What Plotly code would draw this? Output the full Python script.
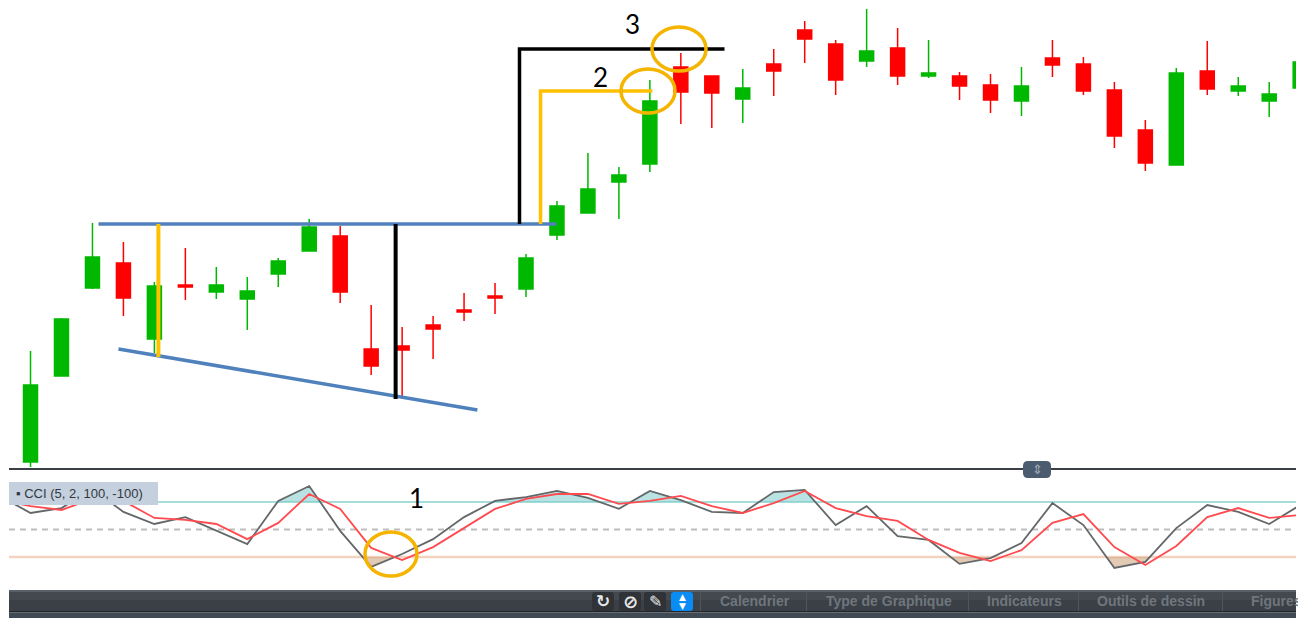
import plotly.graph_objects as go

W, H = 1303, 618

# ---- candles (price scale) ----
opens  = [8,94,182,207,131,185,178,171,196,219,234,121,124,145,160,174,181,235,257,288,306,403,394,371,406,440,426,409,422,394,394,385,369,412,406,380,340,305,399,379,369,382]
highs  = [119,152,247,228,188,222,203,193,212,251,244,165,143,154,177,187,216,269,317,303,390,417,394,401,421,449,430,461,442,430,398,396,403,430,413,388,350,402,429,393,388,420]
lows   = [3,94,181,154,117,170,171,140,183,219,167,95,74,111,149,156,173,230,257,251,298,346,342,347,374,407,375,403,385,392,370,357,354,393,375,322,299,305,375,374,353,370]
closes = [85,151,213,172,184,183,185,179,209,243,178,104,120,141,158,172,212,264,281,295,369,378,377,382,399,431,390,419,394,397,384,370,384,405,379,334,307,397,381,384,376,408]
candle_index = list(range(len(opens)))

# ---- CCI panel ----
cci_index = list(range(-1, 42))
cci_grey = [122,60,78,147,64,20,45,-5,-53,104,158,-5,-136,-89,-35,45,104,118,140,115,75,140,107,64,60,136,144,16,85,-24,-38,-125,-104,-49,96,16,-140,-118,5,89,64,20,89]
cci_red  = [107,85,71,111,104,42,35,20,-35,24,129,75,-67,-111,-64,5,75,111,129,129,93,104,122,85,60,96,140,78,49,31,-38,-85,-115,-75,24,56,-64,-129,-60,45,78,42,53]
cci_upper, cci_mid, cci_lower = 100, 0, -100

# ---- hand-drawn annotations (index, price) ----
blue_top_x, blue_top_y = [2.196, 16.98], [246, 246]
blue_low_x, blue_low_y = [2.84, 14.43], [121, 60]
yellow_v_x, yellow_v_y = [4.13, 4.13], [246, 113]
black_v_x, black_v_y = [11.79, 11.79], [246, 71]
black_l_x, black_l_y = [15.79, 15.79, 22.41], [246, 421, 421]
orange_l_x, orange_l_y = [16.47, 16.47, 20.08], [246, 379, 379]
toolbar_labels = [("Calendrier", 755), ("Type de Graphique", 889), ("Indicateurs", 1024), ("Outils de dessin", 1151)]
toolbar_seps = [700, 806, 968, 1078, 1222]

X = lambda p: p / W
Y = lambda p: 1 - p / H


def clipped(xs, ys, level, above):
    """Split the CCI line into the runs beyond a level, for the shaded areas."""
    runs, cur = [], []
    for i in range(len(xs)):
        beyond = ys[i] > level if above else ys[i] < level
        if beyond:
            if not cur and i > 0:
                t = (level - ys[i - 1]) / (ys[i] - ys[i - 1])
                cur.append((xs[i - 1] + t * (xs[i] - xs[i - 1]), level))
            cur.append((xs[i], ys[i]))
        elif cur:
            t = (level - ys[i - 1]) / (ys[i] - ys[i - 1])
            cur.append((xs[i - 1] + t * (xs[i] - xs[i - 1]), level))
            runs.append(cur)
            cur = []
    if cur:
        runs.append(cur)
    return runs


fig = go.Figure()
fig.add_trace(go.Candlestick(
    x=candle_index, open=opens, high=highs, low=lows, close=closes,
    increasing=dict(line=dict(color="#00b800", width=1.5), fillcolor="#00b800"),
    decreasing=dict(line=dict(color="#ff0000", width=1.5), fillcolor="#ff0000"),
    whiskerwidth=0, hoverinfo="skip", showlegend=False, xaxis="x", yaxis="y",
))

for lx, ly, col, lw in [(blue_top_x, blue_top_y, "#4f81bd", 3.5), (blue_low_x, blue_low_y, "#4f81bd", 3.5),
                        (yellow_v_x, yellow_v_y, "#ffc000", 4), (black_v_x, black_v_y, "#000000", 4),
                        (black_l_x, black_l_y, "#000000", 3.5), (orange_l_x, orange_l_y, "#ffc000", 3.5)]:
    fig.add_trace(go.Scatter(x=lx, y=ly, mode="lines", line=dict(color=col, width=lw),
                             hoverinfo="skip", showlegend=False, xaxis="x", yaxis="y"))

for level, above, col in [(cci_upper, True, "rgba(115,200,198,0.5)"), (cci_lower, False, "rgba(200,150,105,0.5)")]:
    for run in clipped(cci_index, cci_grey, level, above):
        rx = [p[0] for p in run]
        ry = [p[1] for p in run]
        fig.add_trace(go.Scatter(x=rx + [rx[0]], y=ry + [ry[0]], mode="lines", fill="toself",
                                 fillcolor=col, line=dict(width=0), hoverinfo="skip",
                                 showlegend=False, xaxis="x", yaxis="y2"))

fig.add_trace(go.Scatter(x=cci_index, y=cci_grey, mode="lines", line=dict(color="#636769", width=1.8),
                         hoverinfo="skip", showlegend=False, xaxis="x", yaxis="y2"))
fig.add_trace(go.Scatter(x=cci_index, y=cci_red, mode="lines", line=dict(color="#ff4a4f", width=1.8),
                         hoverinfo="skip", showlegend=False, xaxis="x", yaxis="y2"))

shapes = []
def rect(x0, y0, x1, y1, fill, layer="above"):
    shapes.append(dict(type="rect", xref="paper", yref="paper", x0=X(x0), x1=X(x1), y0=Y(y0), y1=Y(y1),
                       fillcolor=fill, line=dict(width=0), layer=layer))
def rrect(x0, y0, x1, y1, r, fill):
    p = (f"M {X(x0 + r)} {Y(y0)} L {X(x1 - r)} {Y(y0)} Q {X(x1)} {Y(y0)} {X(x1)} {Y(y0 + r)} "
         f"L {X(x1)} {Y(y1 - r)} Q {X(x1)} {Y(y1)} {X(x1 - r)} {Y(y1)} "
         f"L {X(x0 + r)} {Y(y1)} Q {X(x0)} {Y(y1)} {X(x0)} {Y(y1 - r)} "
         f"L {X(x0)} {Y(y0 + r)} Q {X(x0)} {Y(y0)} {X(x0 + r)} {Y(y0)} Z")
    shapes.append(dict(type="path", xref="paper", yref="paper", path=p, fillcolor=fill,
                       line=dict(width=0), layer="above"))
def hline(x0, x1, y, col, width, dash="solid", layer="above"):
    shapes.append(dict(type="line", xref="paper", yref="paper", x0=X(x0), x1=X(x1), y0=Y(y), y1=Y(y),
                       line=dict(color=col, width=width, dash=dash), layer=layer))
def ellipse(cx, cy, rx, ry):
    shapes.append(dict(type="circle", xref="paper", yref="paper", x0=X(cx - rx), x1=X(cx + rx), y0=Y(cy + ry), y1=Y(cy - ry),
                       line=dict(color="#f5b400", width=3.5), layer="above"))

hline(9, 1296, 557, "#f3d3c0", 2.5, layer="below")
hline(9, 1296, 502, "#a6dcd9", 2, layer="below")
hline(9, 1296, 529.5, "#bdbdbd", 2, dash="6px,5px", layer="below")
hline(9, 1296, 469, "#3a3f46", 2)
rrect(1023, 461, 1051, 478, 5, "#4b5b70")
rect(9, 482, 158, 505, "#c4d0de")
rect(9, 590, 1296, 600, "#43494f")
rect(9, 600, 1296, 611, "#3a4046")
rect(9, 590, 1296, 592, "#5a6067")
rect(9, 611, 1296, 612.5, "#22262a")
rect(9, 612.5, 1296, 618, "#3f4a55")
for sx in toolbar_seps:
    rect(sx, 591, sx + 1, 611, "#4f555c")
for bx in (603, 630, 655):
    rrect(bx - 11, 592, bx + 11, 611, 3, "#2f3338")
rrect(671, 592, 693, 611, 3, "#0a8cf5")
ellipse(648, 91, 27, 22)
ellipse(679, 49, 27, 22)
ellipse(391, 554, 26, 22)

annos = []
def text(s, px, py, size, col, family="Liberation Sans", bold=False, anchor="center", **kw):
    annos.append(dict(text=f"<b>{s}</b>" if bold else s, x=X(px), y=Y(py), xref="paper", yref="paper",
                      showarrow=False, xanchor=anchor, yanchor="middle",
                      font=dict(size=size, color=col, family=family), **kw))

text("1", 417, 498, 26, "#000000", family="Lato")
text("2", 600, 77, 26, "#000000", family="Lato")
text("3", 632, 24, 26, "#000000", family="Lato")
text("▪ CCI (5, 2, 100, -100)", 14, 493.5, 13, "#33383e", anchor="left")
text("⇕", 1037, 469.5, 13, "#a3aebb", family="DejaVu Sans")
text("↻", 603, 601, 17, "#e8e8e8", family="DejaVu Sans", bold=True)
text("⊘", 630, 601, 18, "#e8e8e8", family="DejaVu Sans", bold=True)
text("✎", 655, 601, 16, "#e8e8e8", family="DejaVu Sans", bold=True)
text("▲", 682, 597, 9, "#ffffff", family="DejaVu Sans")
text("▼", 682, 606, 9, "#ffffff", family="DejaVu Sans")
for label, lx in toolbar_labels:
    text(label, lx, 600.5, 14, "#6f767d", bold=True)
text("Figures", 1249, 600.5, 14, "#6f767d", bold=True, anchor="left", width=47, align="left")

fig.update_layout(
    width=W, height=H, autosize=False, margin=dict(l=0, r=0, t=0, b=0),
    paper_bgcolor="#ffffff", plot_bgcolor="#ffffff", showlegend=False, boxgap=0.355,
    xaxis=dict(domain=[X(9), X(1296)], range=[-0.695, 40.865], visible=False, rangeslider=dict(visible=False), fixedrange=True),
    yaxis=dict(domain=[Y(468), Y(0)], range=[2, 470], visible=False, fixedrange=True),
    yaxis2=dict(domain=[Y(590), Y(476)], range=[-220, 194.5], visible=False, anchor="x", fixedrange=True),
    shapes=shapes, annotations=annos,
)

fig.write_html("out.html", config=dict(displayModeBar=False),
               post_script="document.body.style.margin='0';document.body.style.overflow='hidden';")
